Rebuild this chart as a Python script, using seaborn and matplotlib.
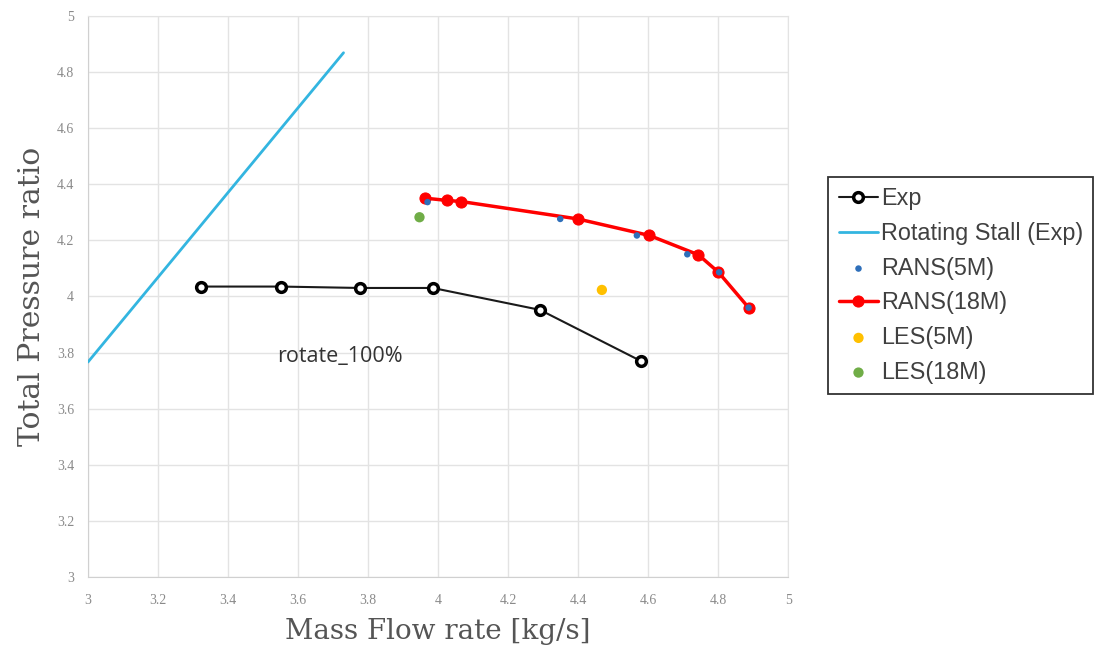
import matplotlib
matplotlib.use('Agg')
import matplotlib.pyplot as plt
import seaborn as sns
from matplotlib.ticker import FuncFormatter

# Data
exp_flow = [3.323, 3.551, 3.777, 3.985, 4.291, 4.579]
exp_pr = [4.035, 4.035, 4.030, 4.030, 3.952, 3.770]

stall_flow = [3.0, 3.730]
stall_pr = [3.766, 4.868]

rans5_flow = [3.970, 4.349, 4.568, 4.712, 4.803, 4.887]
rans5_pr = [4.336, 4.276, 4.217, 4.150, 4.086, 3.960]

rans18_flow = [3.963, 4.025, 4.066, 4.399, 4.604, 4.744, 4.801, 4.887]
rans18_pr = [4.350, 4.342, 4.338, 4.276, 4.217, 4.148, 4.086, 3.960]

les5_flow = [4.468]
les5_pr = [4.023]

les18_flow = [3.947]
les18_pr = [4.282]

x_ticks = [3, 3.2, 3.4, 3.6, 3.8, 4, 4.2, 4.4, 4.6, 4.8, 5]
y_ticks = [3, 3.2, 3.4, 3.6, 3.8, 4, 4.2, 4.4, 4.6, 4.8, 5]

sns.set_style('white')

fig = plt.figure(figsize=(10.94, 6.55), dpi=100)
ax = fig.add_axes([0.0804, 0.119, 0.640, 0.857])

sns.lineplot(x=exp_flow, y=exp_pr, ax=ax, color='#1a1a1a', lw=1.5, marker='o',
             markersize=7, markerfacecolor='white', markeredgecolor='black',
             markeredgewidth=2.5, label='Exp', sort=False, zorder=3)
sns.lineplot(x=stall_flow, y=stall_pr, ax=ax, color='#33b5e0', lw=2,
             label='Rotating Stall (Exp)', sort=False, zorder=3)
sns.scatterplot(x=rans5_flow, y=rans5_pr, ax=ax, color='#2e6fba', s=22,
                edgecolor='none', label='RANS(5M)', zorder=5)
sns.lineplot(x=rans18_flow, y=rans18_pr, ax=ax, color='#ff0000', lw=2.5,
             marker='o', markersize=8, markeredgecolor='#ff0000',
             label='RANS(18M)', sort=False, zorder=4)
sns.scatterplot(x=les5_flow, y=les5_pr, ax=ax, color='#ffc000', s=55,
                edgecolor='none', label='LES(5M)', zorder=4)
sns.scatterplot(x=les18_flow, y=les18_pr, ax=ax, color='#70ad47', s=55,
                edgecolor='none', label='LES(18M)', zorder=4)

ax.text(3.72, 3.785, 'rotate_100%', family='Open Sans', fontsize=15.5,
        color='#333333', ha='center', va='center')

ax.set_xlim(3, 5)
ax.set_ylim(3, 5)
ax.set_xticks(x_ticks)
ax.set_yticks(y_ticks)
fmt = FuncFormatter(lambda v, p: f'{v:g}')
ax.xaxis.set_major_formatter(fmt)
ax.yaxis.set_major_formatter(fmt)
ax.grid(True, color='#e3e3e3', lw=1)
ax.set_axisbelow(True)
for s in ax.spines.values():
    s.set_color('#e3e3e3')
ax.spines['left'].set_color('#d0d0d0')
ax.spines['bottom'].set_color('#d0d0d0')
ax.tick_params(axis='both', length=0, labelsize=10, labelcolor='#8a8a8a')
ax.tick_params(axis='x', pad=12)
ax.tick_params(axis='y', pad=10)
for lab in ax.get_xticklabels() + ax.get_yticklabels():
    lab.set_family('Liberation Serif')

ax.set_xlabel('Mass Flow rate [kg/s]', family='DejaVu Serif', fontsize=20,
              color='#555555', labelpad=8)
ax.set_ylabel('Total Pressure ratio', family='DejaVu Serif', fontsize=21.5,
              color='#555555', labelpad=8)

leg = ax.legend(loc='upper left', bbox_to_anchor=(0.757, 0.730),
                bbox_transform=fig.transFigure, borderaxespad=0,
                frameon=True, fancybox=False, edgecolor='black',
                prop={'family': 'Liberation Sans', 'size': 16.8},
                labelspacing=0.5, handlelength=1.7, handletextpad=0.1,
                borderpad=0.45, scatterpoints=1)
leg.get_frame().set_linewidth(1.3)
for t in leg.get_texts():
    t.set_color('#404040')

fig.savefig('out.png', dpi=100)
